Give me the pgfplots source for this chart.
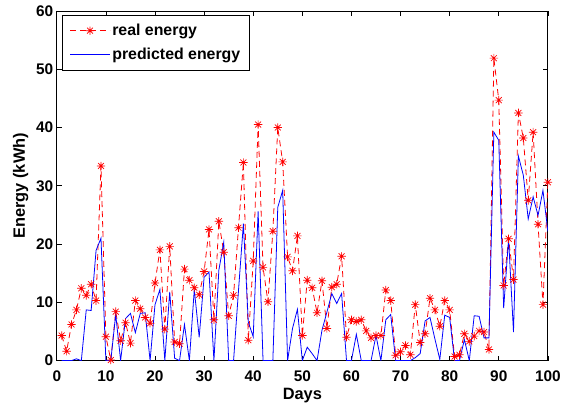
\documentclass[border=0pt]{standalone}
\usepackage{pgfplots}
\pgfplotsset{compat=1.18}
\usepackage{pgfplotstable}
\usepackage{fontspec}
\setmainfont{Liberation Sans}
\pgfdeclareplotmark{mstar}{%
  \pgfpathmoveto{\pgfqpoint{-\pgfplotmarksize}{0pt}}\pgfpathlineto{\pgfqpoint{\pgfplotmarksize}{0pt}}%
  \pgfpathmoveto{\pgfqpoint{0pt}{-\pgfplotmarksize}}\pgfpathlineto{\pgfqpoint{0pt}{\pgfplotmarksize}}%
  \pgfpathmoveto{\pgfqpoint{-.707\pgfplotmarksize}{-.707\pgfplotmarksize}}\pgfpathlineto{\pgfqpoint{.707\pgfplotmarksize}{.707\pgfplotmarksize}}%
  \pgfpathmoveto{\pgfqpoint{-.707\pgfplotmarksize}{.707\pgfplotmarksize}}\pgfpathlineto{\pgfqpoint{.707\pgfplotmarksize}{-.707\pgfplotmarksize}}%
  \pgfusepathqstroke}
\pgfplotstableread{
day real pred
1 4.3 0
2 1.6 0
3 6.2 0
4 8.7 0.3
5 12.4 0
6 11.2 8.7
7 13.1 8.6
8 10.3 18.9
9 33.4 21.0
10 4.1 0
11 0.1 0
12 8.4 7.9
13 3.4 0
14 6.5 7.2
15 3.0 8.1
16 10.3 4.8
17 8.9 8.1
18 7.4 8.2
19 6.4 0
20 13.3 9.6
21 19.0 12.2
22 5.4 0
23 19.6 11.8
24 3.2 0.4
25 2.9 0
26 15.7 6.2
27 13.8 0
28 12.5 12.2
29 11.3 4.0
30 15.3 14.3
31 22.5 15.2
32 7.0 0
33 23.9 15.5
34 18.6 20.3
35 7.7 0
36 11.2 0
37 22.8 12.0
38 34.0 23.5
39 3.5 6.6
40 17.1 4.1
41 40.5 25.6
42 16.0 0
43 10.1 0
44 22.2 0
45 40.0 26.3
46 34.1 29.2
47 17.8 0
48 15.4 5.5
49 21.4 8.8
50 4.3 0
51 13.8 2.3
52 12.5 1.2
53 8.2 0
54 13.7 5.2
55 5.5 8.3
56 12.6 11.5
57 13.1 9.8
58 17.9 11.5
59 4.0 0
60 7.0 0
61 6.7 4.5
62 7.0 0
63 5.1 0
64 3.9 0
65 4.3 4.3
66 4.3 0
67 12.1 7.0
68 10.3 7.9
69 0.9 0
70 1.5 0
71 2.6 0
72 1.0 0
73 9.6 0.5
74 3.1 1.2
75 4.6 6.8
76 10.7 7.4
77 8.7 3.7
78 5.9 0.2
79 10.3 7.8
80 8.7 7.4
81 0.7 0
82 1.0 0
83 4.6 3.6
84 3.3 0
85 4.2 7.7
86 5.1 7.6
87 4.9 3.9
88 1.9 3.9
89 51.9 39.2
90 44.7 37.8
91 12.9 9.0
92 20.9 20.9
93 13.9 4.9
94 42.5 35.1
95 38.2 31.8
96 27.5 24.3
97 39.2 28.1
98 23.4 24.9
99 9.6 29.2
100 30.6 22.2
}\datatable
\begin{document}
\begin{tikzpicture}
\begin{axis}[
  scale only axis,
  width=493bp, height=351bp,
  xmin=0, xmax=100, ymin=0, ymax=60,
  xtick={0,10,...,100}, ytick={0,10,...,60},
  tick align=inside,
  major tick length=5bp,
  axis line style={line width=0.8pt},
  every tick/.style={black, line width=0.6pt},
  font=\fontsize{15.5}{18}\selectfont\bfseries,
  /pgf/number format/assume math mode=true,
  ticklabel style={font=\fontsize{15.5}{18}\selectfont\bfseries},
  xticklabel style={yshift=-7bp},
  xlabel={Days}, ylabel={Energy (kWh)},
  xlabel style={font=\fontsize{16.5}{19}\selectfont\bfseries, yshift=1bp},
  ylabel style={font=\fontsize{16.5}{19}\selectfont\bfseries, yshift=1bp},
  legend style={at={(rel axis cs:0.0115,0.9886)}, anchor=north west,
    draw=black, line width=0.6pt, font=\fontsize{16}{19}\selectfont\bfseries,
    inner xsep=7bp, inner ysep=7bp, row sep=7bp},
  legend cell align=left,
  legend image code/.code={\draw[mark repeat=2,mark phase=2] plot coordinates {(0bp,0bp) (20bp,0bp) (40bp,0bp)};},
]
\addplot[red, line width=0.8pt, dash pattern=on 6bp off 4bp, mark=mstar, mark size=4.2bp, mark options={solid, line width=0.7pt}] table[x=day, y=real] {\datatable};
\addlegendentry{real energy}
\addplot[blue, line width=0.8pt, no marks] table[x=day, y=pred] {\datatable};
\addlegendentry{predicted energy}
\end{axis}
\path ([shift={(-57bp,-44bp)}]current axis.south west) rectangle ([shift={(14bp,11bp)}]current axis.north east);
\end{tikzpicture}
\end{document}
